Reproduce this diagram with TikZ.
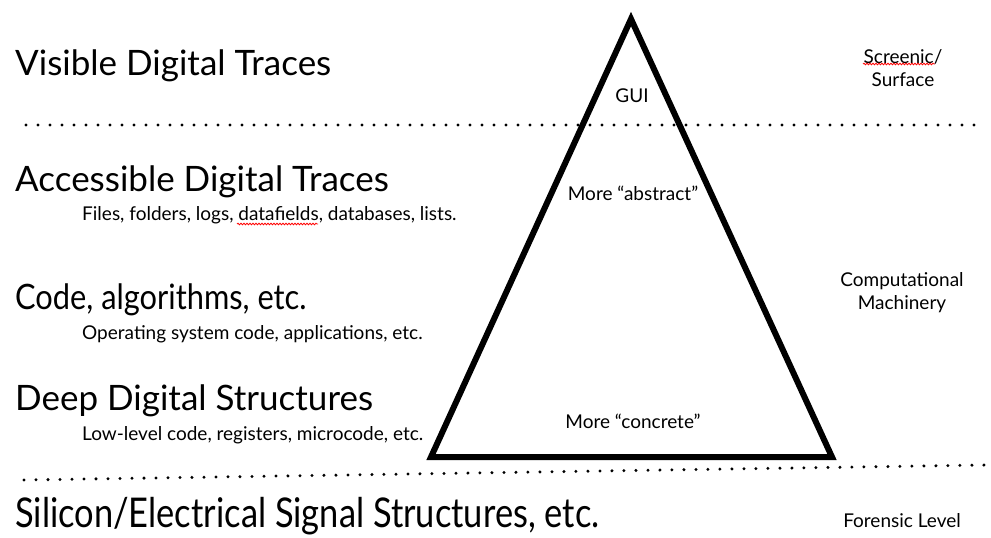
\documentclass[tikz,border=0pt]{standalone}
\usepackage{fontspec}
\setmainfont{Lato}
\usetikzlibrary{decorations.pathmorphing}

\tikzset{
  heading/.style={anchor=base west, inner sep=0pt, font=\fontsize{35}{38}\selectfont},
  subhead/.style={anchor=base west, inner sep=0pt, font=\fontsize{19}{22}\selectfont},
  sidenote/.style={align=center, inner sep=0pt, font=\fontsize{19}{23}\selectfont},
  pyrlabel/.style={anchor=base, inner sep=0pt, font=\fontsize{19}{22}\selectfont},
  dotline/.style={line width=3.3pt, line cap=round, dash pattern=on 0pt off 12pt},
  spellmark/.style={red, line width=0.8pt, decorate,
    decoration={snake, amplitude=0.8pt, segment length=3pt}}
}

\begin{document}
\begin{tikzpicture}[x=1pt,y=-1pt]
\useasboundingbox (0,0) rectangle (991,538);

% Layer separators
\draw[dotline] (26,125) -- (985,125);
\draw[dotline] (24,480) -- (985,465);

% Pyramid
\coordinate (apex) at (631,19);
\coordinate (baseL) at (431,457);
\coordinate (baseR) at (832,457);
\draw[line width=6pt, line join=miter] (apex) -- (baseL) -- (baseR) -- cycle;
\node[pyrlabel] (gui) at (632,102) {GUI};
\node[pyrlabel] (abstract) at (633,200) {More “abstract”};
\node[pyrlabel] (concrete) at (633,428) {More “concrete”};

% Layers on the left
\node[heading] (visible) at (15,75) {Visible Digital Traces};
\node[heading] (access) at (15,191) {Accessible Digital Traces};
\node[subhead] (files) at (82,220) {Files, folders, logs, datafields, databases, lists.};
\node[heading] (code) at (15,309) {\scalebox{0.88}[1]{Code, algorithms, etc.}};
\node[subhead] (opsys) at (82,339) {Operating system code, applications, etc.};
\node[heading] (deep) at (15,410) {Deep Digital Structures};
\node[subhead] (lowlevel) at (82,440) {Low-level code, registers, microcode, etc.};
\node[heading, font=\fontsize{41}{44}\selectfont] (silicon) at (15,527)
  {\scalebox{0.84}[1]{Silicon/Electrical Signal Structures, etc.}};

% Notes on the right
\node[sidenote] (screenic) at (903,68) {Screenic/\\Surface};
\node[sidenote] (machinery) at (902,293) {Computational\\Machinery};
\node[sidenote, anchor=base] (forensic) at (902,527) {Forensic Level};

% Spell-check marks
\draw[spellmark] (863,64) -- (935,64);
\draw[spellmark] (237,224) -- (318,224);
\end{tikzpicture}
\end{document}
